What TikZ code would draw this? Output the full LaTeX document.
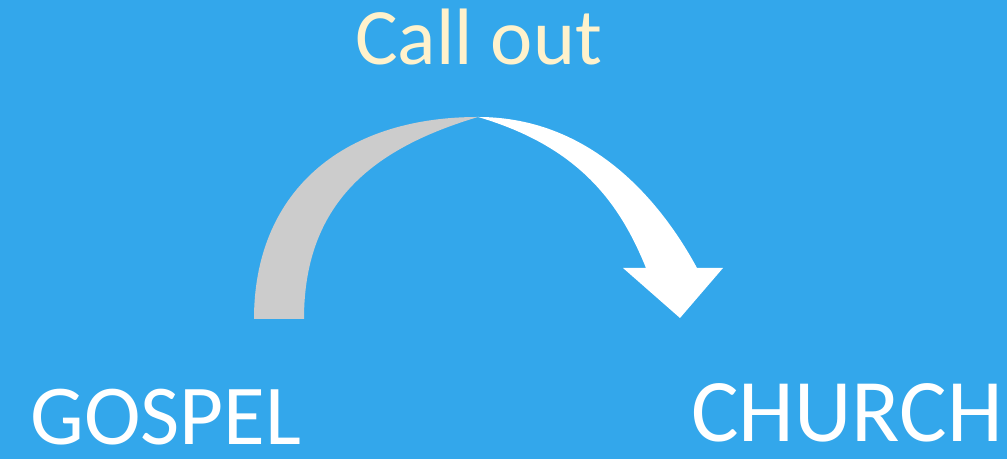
\documentclass[tikz,border=0pt]{standalone}
\usepackage{fontspec}
\setmainfont{Carlito}
\definecolor{bgblue}{RGB}{51,167,235}
\definecolor{cream}{RGB}{255,242,204}
\definecolor{backgray}{RGB}{204,204,204}
\begin{document}
\begin{tikzpicture}[x=0.75pt,y=0.75pt,
  lbl/.style={anchor=base west,inner sep=0pt,text depth=0pt}]
\fill[bgblue] (0,0) rectangle (1007,459);
\useasboundingbox (0,0) rectangle (1007,459);
\coordinate (top) at (478,342);
% back (gray) half of the curved arrow
\fill[backgray] (254,140) .. controls (254,265) and (340,342) .. (top)
  .. controls (378,312) and (304,260) .. (304,140) -- cycle;
% front (white) half with head
\fill[white] (top) .. controls (595,342) and (664,252) .. (697,191)
  -- (723,191) -- (680,141) -- (623,191) -- (646,191)
  .. controls (620,255) and (580,312) .. (top) -- cycle;
\node[lbl,text=cream,font=\fontsize{60}{70}\selectfont] (call) at (355,394) {Call out};
\node[lbl,text=white,font=\fontsize{64}{72}\selectfont] (gospel) at (30,14) {GOSPEL};
\node[lbl,text=white,font=\fontsize{67}{75}\selectfont] (church) at (691,17) {CHURCH};
\end{tikzpicture}
\end{document}
